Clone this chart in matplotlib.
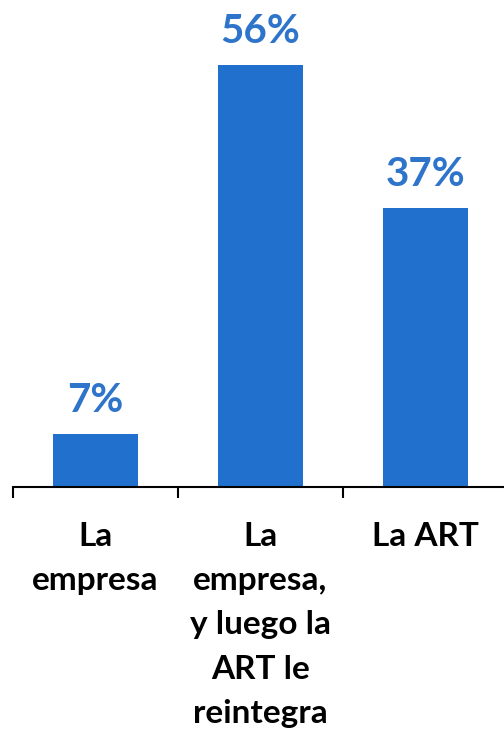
import matplotlib
matplotlib.use("Agg")
import matplotlib.pyplot as plt

categories = ["La\nempresa", "La\nempresa,\ny luego la\nART le\nreintegra", "La ART"]
values = [7, 56, 37]
value_labels = ["7%", "56%", "37%"]

bar_color = "#2270CE"
label_color = "#2E74CB"

plt.rcParams["font.family"] = ["Lato", "DejaVu Sans"]

fig = plt.figure(figsize=(5.04, 7.34), dpi=100)
ax = fig.add_axes([13 / 504, 247 / 734, 495 / 504, 452 / 734])

x = range(len(categories))
bars = ax.bar(x, values, width=0.51, color=bar_color)

# value labels above the bars
for b, lab in zip(bars, value_labels):
    ax.annotate(lab, (b.get_x() + b.get_width() / 2, b.get_height()),
                xytext=(0, 11), textcoords="offset points",
                ha="center", va="bottom", fontsize=29, fontweight="bold",
                color=label_color)

ax.set_xlim(-0.5, 2.5)
ax.set_ylim(0, 60)
# major ticks sit between categories, labels go on minor ticks
ax.set_xticks([-0.5, 0.5, 1.5, 2.5])
ax.set_xticklabels([])
ax.set_xticks(list(x), minor=True)
ax.set_xticklabels(categories, minor=True, fontsize=24, fontweight="bold",
                   va="top", linespacing=1.64)
ax.tick_params(axis="x", which="major", length=8, width=1.5, direction="out")
ax.tick_params(axis="x", which="minor", length=0, pad=25)
ax.set_yticks([])
for s in ["top", "right", "left"]:
    ax.spines[s].set_visible(False)
ax.spines["bottom"].set_linewidth(1.5)

fig.savefig("out.png", dpi=100)
